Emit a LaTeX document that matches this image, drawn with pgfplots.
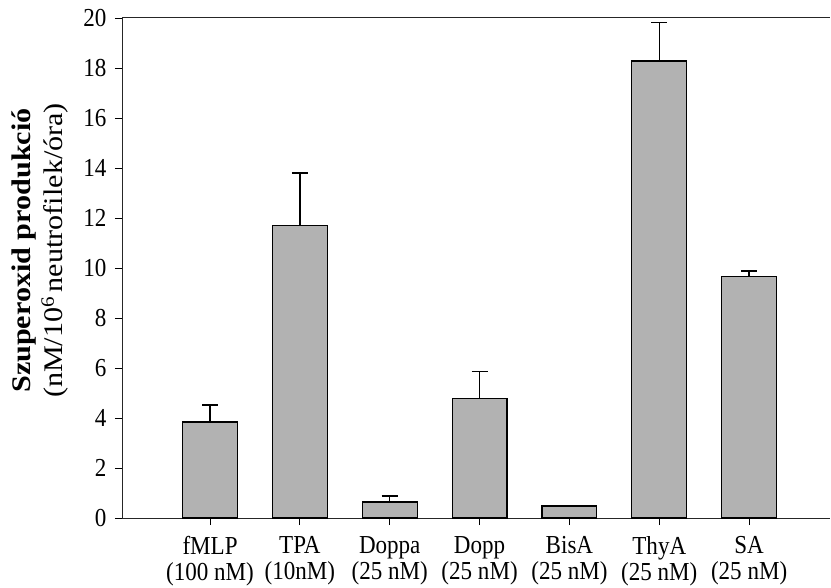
\documentclass[border=0pt]{standalone}
\usepackage{pgfplots}
\pgfplotsset{compat=1.18}
\usepackage{fontspec}
\setmainfont{Liberation Serif}
\newfontfamily\xlabfont[FakeStretch=0.89]{Liberation Serif}
\newfontfamily\ylabfont[FakeStretch=1.12]{Liberation Serif}
\begin{document}
\fontsize{25}{29}\selectfont
\begin{tikzpicture}
\begin{axis}[
  scale only axis,
  width=708bp, height=500bp,
  xmin=-0.98, xmax=6.9,
  ymin=0, ymax=20,
  ytick={0,2,...,20},
  xtick={0,1,2,3,4,5,6},
  xticklabels={{fMLP\\(100 nM)},{TPA\\(10nM)},{Doppa\\(25 nM)},{Dopp\\(25 nM)},{BisA\\(25 nM)},{ThyA\\(25 nM)},{SA\\(25 nM)}},
  xticklabel style={align=center, font=\xlabfont\fontsize{26}{26}\selectfont, yshift=-3bp},
  yticklabel style={font=\xlabfont\fontsize{26}{29}\selectfont},
  /pgf/number format/assume math mode=true,
  axis x line*=box,
  axis y line*=left,
  xtick pos=bottom,
  ytick pos=left,
  tick align=outside,
  major tick length=7bp,
  axis line style={line width=1pt, black!85},
  tick style={line width=0.9pt, black},
  ylabel={\textbf{Szuperoxid produkció}\\(nM/10\textsuperscript{6}\,neutrofilek/óra)},
  ylabel style={at={(ticklabel cs:0.535)}, align=center, font=\ylabfont\fontsize{27}{33}\selectfont, yshift=-2bp},
  clip=false,
]
\addplot[ybar, bar width=0.61, fill=black!30, draw=black, line width=1.1pt,
  error bars/.cd, y dir=plus, y explicit,
  error bar style={line width=1.3pt, black},
  error mark options={rotate=90, mark size=8bp, line width=1.5pt}]
coordinates {
 (0,3.84) +- (0,0.68)
 (1,11.70) +- (0,2.10)
 (2,0.64) +- (0,0.24)
 (3,4.77) +- (0,1.08)
 (4,0.48) +- (0,0)
 (5,18.28) +- (0,1.53)
 (6,9.65) +- (0,0.23)
};
\end{axis}
\pgfresetboundingbox
\path (-122bp,-70bp) rectangle (709bp,518bp);
\end{tikzpicture}
\end{document}
